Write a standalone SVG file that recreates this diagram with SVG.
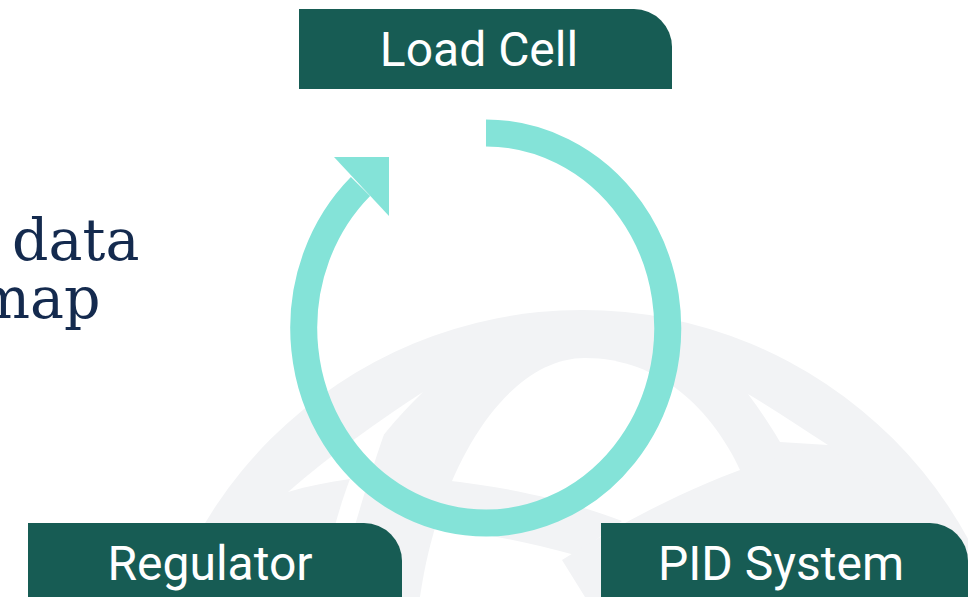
<svg xmlns="http://www.w3.org/2000/svg" width="968" height="597" viewBox="0 0 968 597">
  <style>
    .box { fill: #175c54; }
    .label { font-family: Roboto, "Liberation Sans", sans-serif; font-size: 48px; fill: #ffffff; text-anchor: middle; }
    .title { font-family: "DejaVu Serif", "Liberation Serif", serif; font-size: 57px; fill: #142a4e; }
    .wm { fill: #f2f3f5; }
    .cut { fill: #ffffff; }
    .loop { fill: none; stroke: #84e3d8; stroke-width: 27; }
    .head { fill: #84e3d8; }
  </style>
  <rect width="968" height="597" fill="#ffffff"/>

  <!-- faint globe emblem in the background -->
  <g id="emblem">
    <path class="wm" d="M142 750 A440 440 0 0 1 1022 750 Z"/>
    <!-- central lens -->
    <path class="cut" d="M420 597 C438 470 505 358 585 358 C660 358 712 410 740 470 C758 512 768 556 776 597 Z"/>
    <!-- left wedge and stripe -->
    <path class="cut" d="M423 392 C380 420 330 455 288 492 C308 486 328 482 350 479 C372 448 396 418 423 392 Z"/>
    <path class="cut" d="M350 479 C368 448 380 430 392 412 C378 450 355 520 335 597 L318 597 C328 550 338 510 350 479 Z"/>
    <!-- right wedge -->
    <path class="cut" d="M748 394 C775 410 802 428 828 445 C812 444 796 443 780 442 C770 425 760 410 748 394 Z"/>
    <!-- swooshes crossing the lens -->
    <path class="wm" d="M442 480 C520 488 580 505 622 521 L575 555 C520 540 470 530 418 528 Z"/>
    <path class="wm" d="M562 560 C650 505 740 462 828 445 L878 493 C780 512 690 545 615 597 L585 597 Z"/>
  </g>

  <!-- connectors -->
  <g id="connectors">
    <path class="loop" d="M486 133 A182 195 0 1 1 360.5 186.5"/>
    <polygon class="head" points="334,157 389,157 389,216"/>
  </g>

  <!-- heading fragment on the left, running off the page edge -->
  <g id="heading">
    <text class="title"><tspan x="12" y="260">data</tspan><tspan x="-24" y="318">map</tspan></text>
  </g>

  <g id="load-cell">
    <path class="box" d="M299 9 H634 A38 38 0 0 1 672 47 V89 H299 Z"/>
    <text class="label" x="479" y="66">Load Cell</text>
  </g>

  <g id="regulator">
    <path class="box" d="M28 523 H364 A38 38 0 0 1 402 561 V600 H28 Z"/>
    <text class="label" x="210" y="580">Regulator</text>
  </g>

  <g id="pid-system">
    <path class="box" d="M601 523 H930 A38 38 0 0 1 968 561 V600 H601 Z"/>
    <text class="label" x="781" y="580">PID System</text>
  </g>
</svg>
